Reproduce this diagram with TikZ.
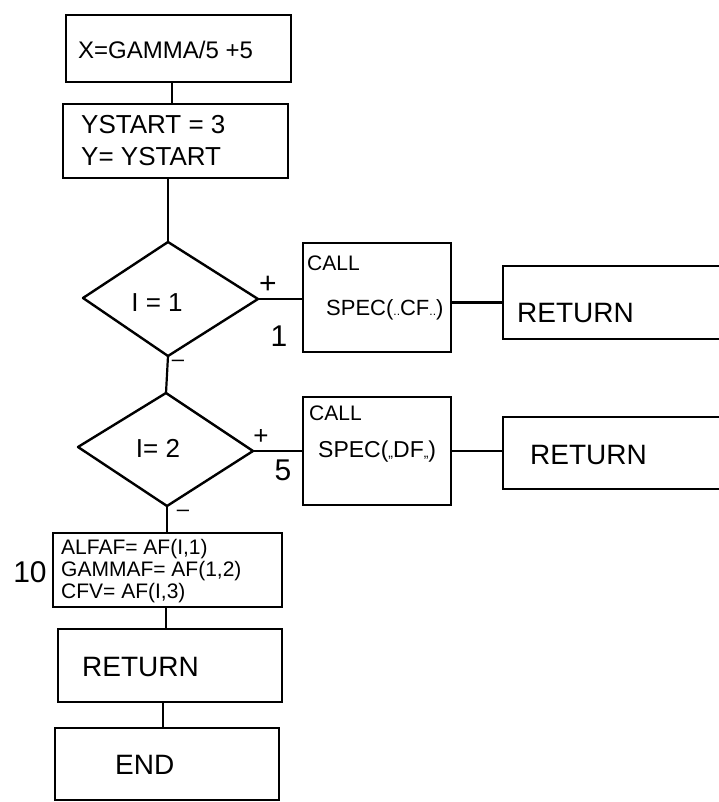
\documentclass[tikz,border=0pt]{standalone}
\usepackage{fontspec}
\setmainfont{Liberation Sans}
\begin{document}
\begin{tikzpicture}[x=1pt,y=-1pt,
  box/.style={draw,line width=2.4pt,rectangle,inner sep=0pt},
  conn/.style={line width=2.2pt},
  txt/.style={anchor=west,inner sep=0pt,align=left},
  fs/.style={font=\fontsize{#1}{#1}\selectfont},
  lbl/.style={inner sep=0pt,font=\fontsize{30}{30}\selectfont}
]
\useasboundingbox (0,0) rectangle (719,802);
\clip (0,0) rectangle (719,802);
% boxes
\node[box,minimum width=225pt,minimum height=67pt] (b1) at (178.5,48.5) {};
\node[box,minimum width=225pt,minimum height=74pt] (b2) at (175.5,141) {};
\node[box,minimum width=148pt,minimum height=109pt] (c1) at (377,297.5) {};
\node[box,minimum width=148pt,minimum height=108pt] (c2) at (377,451) {};
\node[box,minimum width=222pt,minimum height=73pt] (r1) at (614,302.5) {};
\node[box,minimum width=222pt,minimum height=72pt] (r2) at (614,453) {};
\node[box,minimum width=229pt,minimum height=74pt] (b3) at (167.5,570) {};
\node[box,minimum width=224pt,minimum height=73pt] (b4) at (170,665.5) {};
\node[box,minimum width=224pt,minimum height=72pt] (b5) at (167,764) {};
% diamonds
\coordinate (d1t) at (168,242);
\coordinate (d1l) at (83,298);
\coordinate (d1b) at (168,356);
\coordinate (d1r) at (258,299);
\coordinate (d2t) at (166,393);
\coordinate (d2l) at (78,447);
\coordinate (d2b) at (167,506);
\coordinate (d2r) at (253,451);
\draw[line width=2.4pt,line join=round] (d1t) -- (d1r) -- (d1b) -- (d1l) -- cycle;
\draw[line width=2.4pt,line join=round] (d2t) -- (d2r) -- (d2b) -- (d2l) -- cycle;
% connector x positions
\coordinate (k1) at (172,0);
\coordinate (k2) at (166,0);
\coordinate (k3) at (163,0);
% connectors
\draw[conn] (b1.south -| k1) -- (b2.north -| k1);
\draw[conn] (b2.south -| d1t) -- (d1t);
\draw[conn] (d1b) -- (d2t);
\draw[conn] (d2b) -- (b3.north -| d2b);
\draw[conn] (b3.south -| k2) -- (b4.north -| k2);
\draw[conn] (b4.south -| k3) -- (b5.north -| k3);
\draw[conn] (d1r) -- (c1.west |- d1r);
\draw[conn] (r1.west) -- (c1.east |- r1.west);
\draw[conn] (d2r) -- (c2.west |- d2r);
\draw[conn] (c2.east) -- (r2.west |- c2.east);
% texts
\node[txt,fs=24] (t1) at (78,50) {X=GAMMA/5 +5};
\node[txt,font=\fontsize{26}{32}\selectfont] (t2) at (81,141) {YSTART = 3\\Y= YSTART};
\node[inner sep=0pt,fs=26] (t3) at (157,303) {I = 1};
\node[inner sep=0pt,fs=26] (t4) at (158,448) {I= 2};
\node[txt,fs=21] (t5) at (307,263) {CALL};
\node[txt,fs=22] (t6) at (326,310) {SPEC({\fontsize{12}{12}\selectfont..}CF{\fontsize{12}{12}\selectfont..})};
\node[txt,fs=21] (t7) at (309,413) {CALL};
\node[txt,fs=23] (t8) at (318,452) {SPEC({\fontsize{14}{14}\selectfont,,}DF{\fontsize{14}{14}\selectfont,,})};
\node[txt,fs=28] (t9) at (517,313) {RETURN};
\node[txt,fs=28] (t10) at (530,455) {RETURN};
\node[txt,font=\fontsize{21}{22}\selectfont] (t11) at (61,571) {ALFAF= AF(I,1)\\GAMMAF= AF(1,2)\\CFV= AF(I,3)};
\node[txt,fs=28] (t12) at (82,667) {RETURN};
\node[txt,fs=28] (t13) at (115,765) {END};
% side labels
\node[inner sep=0pt,fs=30] (p1) at (268,285) {+};
\node[lbl] (n1) at (279,336) {1};
\node[inner sep=0pt,fs=22] (m1) at (178,363) {--};
\node[inner sep=0pt,fs=26] (p2) at (261,437) {+};
\node[lbl] (n5) at (283,470) {5};
\node[inner sep=0pt,fs=22] (m2) at (183,513) {--};
\node[lbl] (n10) at (30,572) {10};
\end{tikzpicture}
\end{document}
